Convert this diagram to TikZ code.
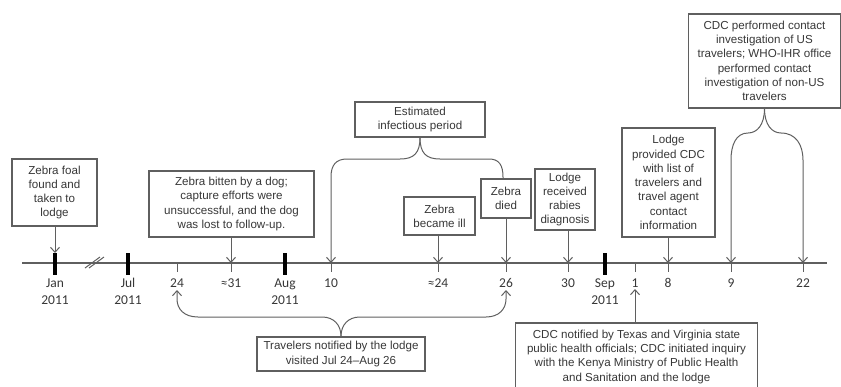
\documentclass[tikz,border=0pt]{standalone}
\usepackage{fontspec}
\setmainfont{Liberation Sans}
\newfontfamily\lblfont{Carlito}
\usetikzlibrary{arrows.meta,calc}
\definecolor{lc}{RGB}{95,95,95}
\definecolor{tc}{RGB}{55,55,55}
\begin{document}
\begin{tikzpicture}[x=1pt,y=-1pt,
  box/.style={draw=lc, line width=1.1pt, text=tc, align=center,
    font=\fontsize{11.6}{14.3}\selectfont, inner sep=0pt},
  boxtext/.style={text=tc, align=center, font=\fontsize{11.6}{14.3}\selectfont, inner sep=0pt},
  boxline/.style={draw=lc, line width=1.1pt},
  arr/.style={draw=lc, line width=1pt, -{Straight Barb[length=5pt,width=9pt]}},
  conn/.style={draw=lc, line width=1pt},
  axisline/.style={draw=lc, line width=1.2pt},
  bigtick/.style={draw=black, line width=3.4pt},
  tk/.style={draw=lc, line width=1pt},
  lbl/.style={text=tc, align=center, font=\lblfont\fontsize{13.5}{17}\selectfont, inner sep=0pt}
]
\useasboundingbox (0,0) rectangle (841,386);

% axis
\coordinate (axL) at (22,263);
\coordinate (axR) at (827,263);
\draw[axisline] (axL) -- (axR);

% tick positions
\coordinate (jan) at (55,263);
\coordinate (jul) at (128,263);
\coordinate (d24) at (177,263);
\coordinate (d31) at (231,263);
\coordinate (aug) at (285,263);
\coordinate (d10) at (331,263);
\coordinate (d24b) at (438,263);
\coordinate (d26) at (506,263);
\coordinate (d30) at (568,263);
\coordinate (sep) at (605,263);
\coordinate (d1) at (635,263);
\coordinate (d8) at (668,263);
\coordinate (d9) at (731,263);
\coordinate (d22) at (803,263);
\coordinate (jantop) at (55,253);

% break mark
\coordinate (br1a) at (85,268); \coordinate (br1b) at (100,257);
\coordinate (br2a) at (89,268); \coordinate (br2b) at (104,257);
\draw[tk] (br1a) -- (br1b);
\draw[tk] (br2a) -- (br2b);

% big ticks
\foreach \m in {jan,jul,aug,sep}
  \draw[bigtick] ($(\m)+(0,-10)$) -- ($(\m)+(0,12)$);
% small ticks
\foreach \d in {d24,d31,d10,d24b,d26,d30,d1,d8,d9,d22}
  \draw[tk] (\d) -- ($(\d)+(0,9)$);

% axis labels
\node[lbl] (ljan) at (55,291.5) {Jan\\2011};
\node[lbl] (ljul) at (128,291.5) {Jul\\2011};
\node[lbl] (l24) at (177,283) {24};
\node[lbl] (l31) at (231,283) {≈31};
\node[lbl] (laug) at (285,291.5) {Aug\\2011};
\node[lbl] (l10) at (331,283) {10};
\node[lbl] (l24b) at (438,283) {≈24};
\node[lbl] (l26) at (506,283) {26};
\node[lbl] (l30) at (568,283) {30};
\node[lbl] (lsep) at (605,291.5) {Sep\\2011};
\node[lbl] (l1) at (635,283) {1};
\node[lbl] (l8) at (668,283) {8};
\node[lbl] (l9) at (731,283) {9};
\node[lbl] (l22) at (803,283) {22};

% boxes
\node[box, minimum width=85, minimum height=67] (A) at (54.5,192.5)
  {Zebra foal\\found and\\taken to\\lodge};
\node[box, minimum width=165, minimum height=66] (B) at (231.5,204)
  {Zebra bitten by a dog;\\capture efforts were\\unsuccessful, and the dog\\was lost to follow-up.};
\node[box, minimum width=130, minimum height=35] (C) at (420,119.5)
  {Estimated\\infectious period};
\node[box, minimum width=71, minimum height=38] (D) at (439.5,216)
  {Zebra\\became ill};
\node[box, minimum width=50, minimum height=39] (E) at (506,198.5)
  {Zebra\\died};
\node[box, minimum width=60, minimum height=61] (F) at (565,199.5)
  {Lodge\\received\\rabies\\diagnosis};
\node[box, minimum width=93, minimum height=109] (G) at (668.5,182.5)
  {Lodge\\provided CDC\\with list of\\travelers and\\travel agent\\contact\\information};
\node[box, minimum width=152, minimum height=94] (H) at (764.5,61)
  {CDC performed contact\\investigation of US\\travelers; WHO-IHR office\\performed contact\\investigation of non-US\\travelers};
\node[box, minimum width=168, minimum height=34] (I) at (341,354)
  {Travelers notified by the lodge\\visited Jul 24–Aug 26};
\node[boxtext, minimum width=241, anchor=north, inner ysep=6.5pt] (J) at (636.5,323)
  {CDC notified by Texas and Virginia state\\public health officials; CDC initiated inquiry\\with the Kenya Ministry of Public Health\\and Sanitation and the lodge};
\draw[boxline] ([yshift=-80pt]J.north west) -- (J.north west) -- (J.north east) -- ([yshift=-80pt]J.north east);

% straight arrows from boxes
\draw[arr] (A.south -| jan) -- (jantop);
\draw[arr] (B.south -| d31) -- (d31);
\draw[arr] (D.south -| d24b) -- (d24b);
\draw[arr] (E.south -| d26) -- (d26);
\draw[arr] (F.south -| d30) -- (d30);
\draw[arr] (G.south -| d8) -- (d8);
\coordinate (up1) at (635,289);
\draw[arr] (J.north -| d1) -- (up1);

% brace: estimated infectious period
\draw[arr] (C.south) .. controls (420,153) and (414,159) .. (400,159) -- (347,159)
  .. controls (336,159) and (331,165) .. (331,177) -- (d10);
\draw[conn] (C.south) .. controls (420,153) and (426,159) .. (440,159) -- (489,159)
  .. controls (499,159) and (503,165) .. (503,177) -- (E.north -| 503,0);

% brace: CDC performed
\draw[arr] (H.south) .. controls (764.5,125) and (757,133) .. (748,133)
  .. controls (736,133) and (731,145) .. (731,160) -- (d9);
\draw[arr] (H.south) .. controls (764.5,125) and (772,133) .. (781,133)
  .. controls (796,133) and (803,145) .. (803,160) -- (d22);

% brace: travelers
\coordinate (up24) at (177,290);
\coordinate (up26) at (506,290);
\draw[arr] (I.north) .. controls (341,325) and (334,317) .. (322,317) -- (198,317)
  .. controls (184,317) and (177,309) .. (177,299) -- (up24);
\draw[arr] (I.north) .. controls (341,325) and (348,317) .. (360,317) -- (486,317)
  .. controls (499,317) and (506,309) .. (506,299) -- (up26);
\end{tikzpicture}
\end{document}
